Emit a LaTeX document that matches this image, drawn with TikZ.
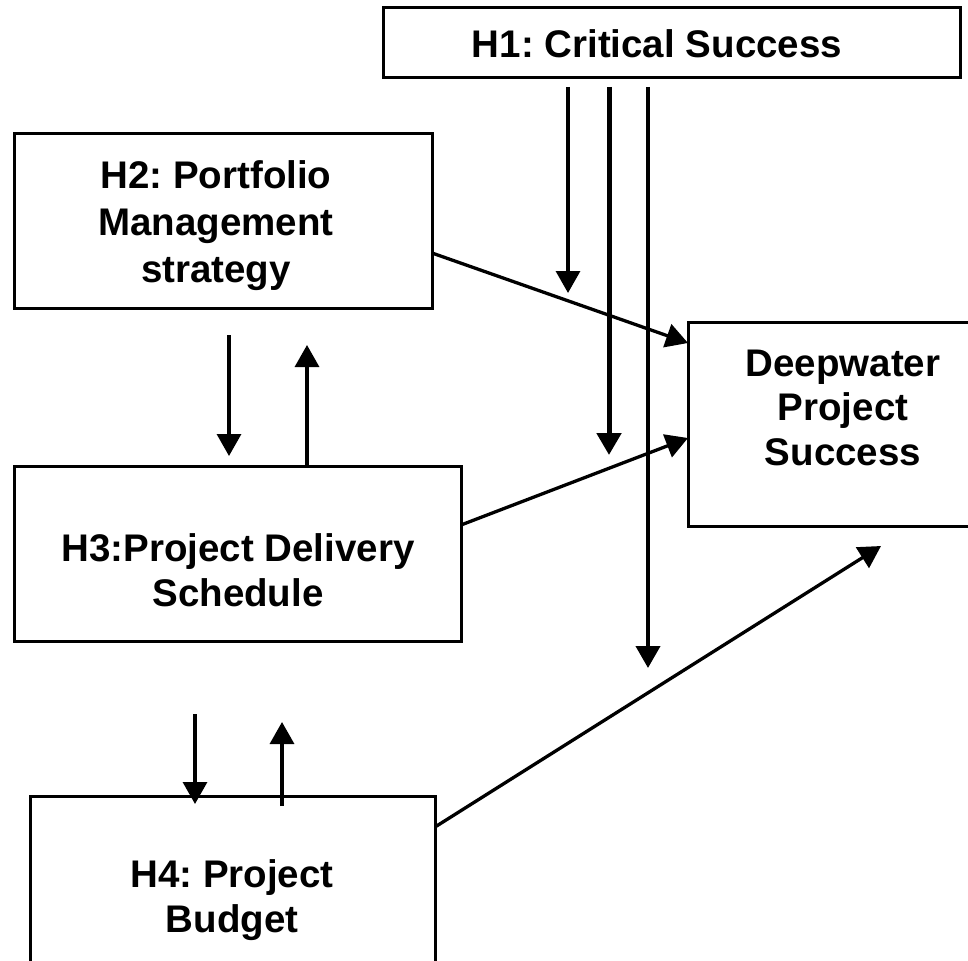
\documentclass[tikz,border=0pt]{standalone}
\usepackage{fontspec}
\setmainfont{Liberation Sans}
\usetikzlibrary{arrows.meta}
\frenchspacing
\begin{document}
\begin{tikzpicture}[x=1pt,y=-1pt,
  box/.style={draw, line width=3pt, rectangle, inner sep=0pt},
  lbl/.style={font=\bfseries\fontsize{38.5}{44.5}\selectfont, align=center, inner sep=0pt, anchor=base},
  arr/.style={line width=3.3pt, -{Triangle[width=24pt,length=22pt]}},
]
\useasboundingbox (0,0) rectangle (968,960);
\clip (0,0) rectangle (968,960);
% boxes
\node[box, minimum width=577pt, minimum height=70pt] (h1) at (671.5,43) {};
\node[box, minimum width=418pt, minimum height=174pt] (h2) at (223,221) {};
\node[box, minimum width=447pt, minimum height=175pt] (h3) at (237.5,553.5) {};
\node[box, minimum width=405pt, minimum height=204pt] (h4) at (232.5,898) {};
\node[box, minimum width=320pt, minimum height=204pt] (dw) at (848,424) {};
% texts (anchor = baseline of last line)
\node[lbl] (t1) at (657,58) {H1: Critical Success};
\node[lbl, font=\bfseries\fontsize{38.5}{47}\selectfont] (t2) at (216,282) {H2: Portfolio\\Management\\strategy};
\node[lbl] (t3) at (238,606) {H3:Project Delivery\\Schedule};
\node[lbl] (t4) at (232,932) {H4: Project\\Budget};
\node[lbl] (t5) at (843,465) {Deepwater\\Project\\Success};
% free-end coordinates
\coordinate (a1s) at (568,87);  \coordinate (a1e) at (568,293);
\coordinate (a2s) at (609,87);  \coordinate (a2e) at (609,455);
\coordinate (a3s) at (648,87);  \coordinate (a3e) at (648,668);
\coordinate (h2o) at (432,253); \coordinate (dw1) at (688,343);
\coordinate (h3o) at (461,525); \coordinate (dw2) at (688,438);
\coordinate (h4o) at (435,827); \coordinate (dw3) at (881,546);
\coordinate (d23s) at (229,335); \coordinate (d23e) at (229,456);
\coordinate (u23s) at (307,466); \coordinate (u23e) at (307,345);
\coordinate (d34s) at (195,714); \coordinate (d34e) at (195,804);
\coordinate (u34s) at (282,806); \coordinate (u34e) at (282,722);
% arrows
\draw[arr] (a1s) -- (a1e);
\draw[arr, line width=5pt] (a2s) -- (a2e);
\draw[arr, line width=4pt] (a3s) -- (a3e);
\draw[arr] (h2o) -- (dw1);
\draw[arr] (h3o) -- (dw2);
\draw[arr] (h4o) -- (dw3);
\draw[arr] (d23s) -- (d23e);
\draw[arr] (u23s) -- (u23e);
\draw[arr] (d34s) -- (d34e);
\draw[arr] (u34s) -- (u34e);
\end{tikzpicture}
\end{document}
